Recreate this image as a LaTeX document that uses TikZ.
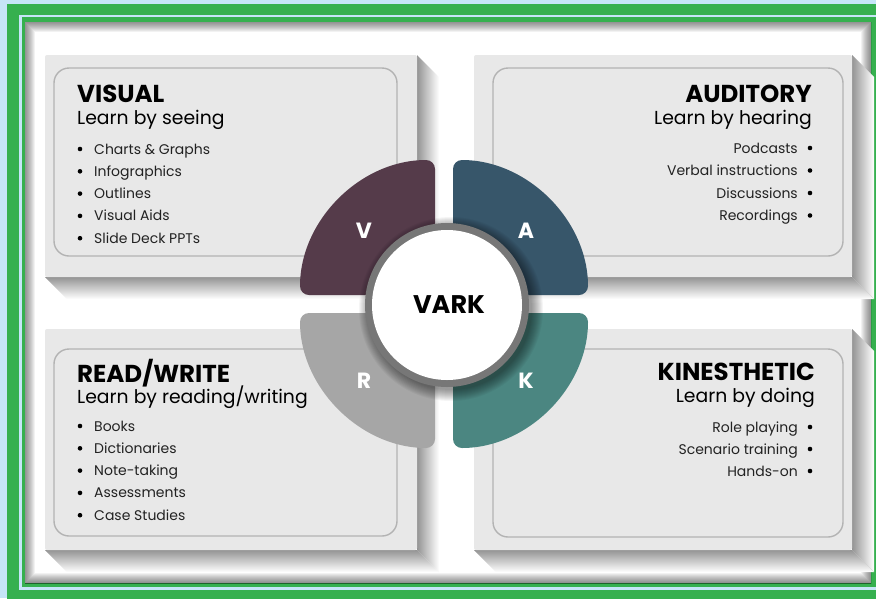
\documentclass[tikz,border=0pt]{standalone}
\usepackage{fontspec}
\setmainfont{Poppins}
\definecolor{frameblue}{HTML}{C6E5F7}
\definecolor{framegreen}{HTML}{36B04F}
\definecolor{cardgray}{HTML}{E8E8E8}
\definecolor{linegray}{HTML}{B3B3B3}
\definecolor{vcol}{HTML}{553B4A}
\definecolor{acol}{HTML}{37566A}
\definecolor{rcol}{HTML}{A6A6A6}
\definecolor{kcol}{HTML}{4B8681}
\definecolor{ringgray}{HTML}{777777}
\definecolor{itemtext}{HTML}{222222}
\tikzset{
  head/.style={inner sep=0pt, font=\fontsize{24.5}{28}\selectfont\bfseries, text=black},
  sub/.style={inner sep=0pt, font=\fontsize{18.8}{22}\selectfont, text=black},
  item/.style={inner sep=0pt, font=\fontsize{14}{16}\selectfont, text=itemtext},
  letter/.style={inner sep=0pt, font=\fontsize{22}{24}\selectfont\bfseries, text=white},
  card/.style={fill=cardgray, rounded corners=2pt},
  innerbox/.style={draw=linegray, line width=1.4pt, rounded corners=15pt},
  bul/.style={fill=black, draw=none},
  sector/.style={rounded corners=9pt, draw=none}
}
\newcommand{\cardshadow}[4]{% left top right bottom
  \shade[left color=black!42, right color=white]
    (#3,#2) -- (#3+22,#2+22) -- (#3+22,#4+22) -- (#3,#4) -- cycle;
  \shade[top color=black!42, bottom color=white]
    (#1,#4) -- (#3,#4) -- (#3+22,#4+22) -- (#1+22,#4+22) -- cycle;
}
\begin{document}
\begin{tikzpicture}[x=1pt,y=-1pt]
\useasboundingbox (0,0) rectangle (876,598);
% frame
\fill[frameblue] (0,0) rectangle (876,598);
\fill[framegreen] (7,4) rectangle (890,610);
\fill[frameblue] (19,15) rectangle (880,590);
\fill[framegreen] (22,17) rectangle (876,587);
\fill[white] (25,22) rectangle (871,583);
\begin{scope}
  \clip (25,22) rectangle (871,583);
  \foreach \k in {1,...,10}
    \draw[black, opacity=0.05, line width=2*\k pt] (25,22) rectangle (871,583);
\end{scope}
% card shadows
\cardshadow{45}{55}{417}{277}
\cardshadow{474}{55}{852}{277}
\cardshadow{45}{329}{417}{550}
\cardshadow{474}{329}{852}{550}
% cards
\fill[card] (45,55) rectangle (417,277);
\fill[card] (474,55) rectangle (852,277);
\fill[card] (45,329) rectangle (417,550);
\fill[card] (474,329) rectangle (852,550);
\draw[innerbox] (54,68) rectangle (397,256);
\draw[innerbox] (493,68) rectangle (843,256);
\draw[innerbox] (54,349) rectangle (397,536);
\draw[innerbox] (493,349) rectangle (843,537);
% VISUAL
\node[head, anchor=base west] (vh) at (77,102) {VISUAL};
\node[sub, anchor=base west] (vs) at (77,124) {Learn by seeing};
\foreach \t [count=\i from 0] in {Charts \& Graphs,Infographics,Outlines,Visual Aids,Slide Deck PPTs}{
  \node[item, anchor=base west] (v\i) at (94,154+22.3*\i) {\t};
  \fill[bul] (80,149+22.3*\i) circle (2.3);
}
% AUDITORY
\node[head, anchor=base east] (ah) at (812,102) {AUDITORY};
\node[sub, anchor=base east] (as) at (812,124) {Learn by hearing};
\foreach \t [count=\i from 0] in {Podcasts,Verbal instructions,Discussions,Recordings}{
  \node[item, anchor=base east] (a\i) at (798,153+22.5*\i) {\t};
  \fill[bul] (810,148+22.5*\i) circle (2.3);
}
% READ/WRITE
\node[head, anchor=base west] (rh) at (77,382) {READ/WRITE};
\node[sub, anchor=base west] (rs) at (77,403) {Learn by reading/writing};
\foreach \t [count=\i from 0] in {Books,Dictionaries,Note-taking,Assessments,Case Studies}{
  \node[item, anchor=base west] (r\i) at (94,431+22.3*\i) {\t};
  \fill[bul] (80,426+22.3*\i) circle (2.3);
}
% KINESTHETIC
\node[head, anchor=base east] (kh) at (815,380) {KINESTHETIC};
\node[sub, anchor=base east] (ks) at (815,402) {Learn by doing};
\foreach \t [count=\i from 0] in {Role playing,Scenario training,Hands-on}{
  \node[item, anchor=base east] (k\i) at (798,432+22*\i) {\t};
  \fill[bul] (810,427+22*\i) circle (2.3);
}
% sectors
\fill[sector, vcol] (435,295) -- ++(-135,0) arc[start angle=180, end angle=270, radius=135] -- cycle;
\fill[sector, acol] (453,295) -- ++(135,0) arc[start angle=0, end angle=-90, radius=135] -- cycle;
\fill[sector, kcol] (453,313) -- ++(135,0) arc[start angle=0, end angle=90, radius=135] -- cycle;
\fill[sector, rcol] (435,313) -- ++(-135,0) arc[start angle=180, end angle=90, radius=135] -- cycle;
\node[letter] (lv) at (364,231) {V};
\node[letter] (la) at (526,231) {A};
\node[letter] (lr) at (364,381) {R};
\node[letter] (lk) at (526,381) {K};
% center circle shadow
\foreach \k in {1,...,12}
  \fill[black, opacity=0.04] (451,309) circle (80+\k);
\fill[ringgray] (447,305) circle (82);
\fill[white] (447,305) circle (75);
\node[inner sep=0pt, font=\fontsize{25.5}{28}\selectfont\bfseries] (vark) at (449,305) {VARK};
\end{tikzpicture}
\end{document}
